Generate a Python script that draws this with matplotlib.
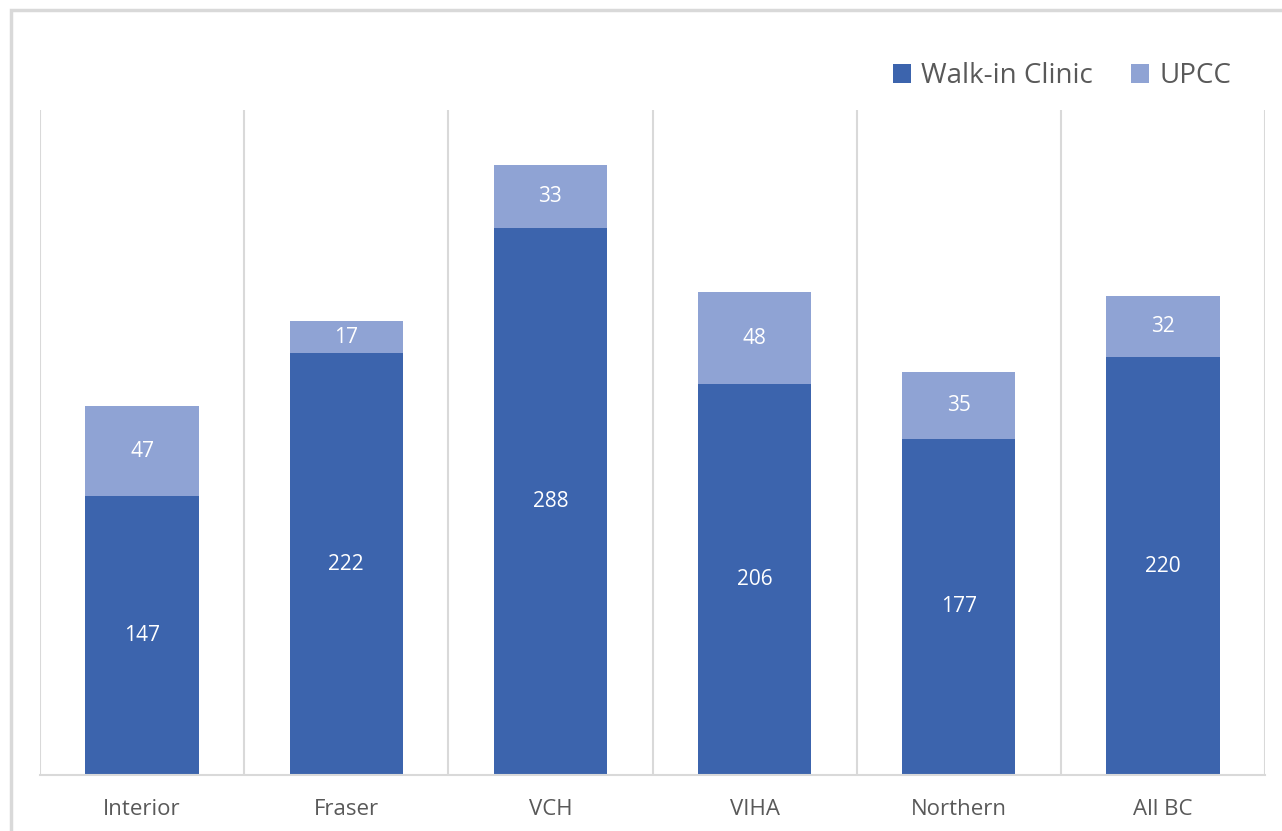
import matplotlib
matplotlib.use('Agg')
from matplotlib import pyplot as plt
from matplotlib.patches import Rectangle

# data
regions = ['Interior', 'Fraser', 'VCH', 'VIHA', 'Northern', 'All BC']
walk_in = [147, 222, 288, 206, 177, 220]
upcc = [47, 17, 33, 48, 35, 32]

dark = '#3C64AD'
light = '#8FA3D4'
grey_txt = '#595959'

plt.rcParams['font.family'] = ['Open Sans', 'DejaVu Sans']

fig = plt.figure(figsize=(12.82, 8.31), dpi=100)
# light grey chart border
fig.patches.append(Rectangle((11/1282, -0.1), 1.2, 1 - 10/831 + 0.1,
                             transform=fig.transFigure, fill=False,
                             edgecolor='#D9D9D9', linewidth=2.5))

ax = fig.add_axes([40/1282, 1 - 775/831, 1225/1282, 665/831])
x = range(len(regions))
b1 = ax.bar(x, walk_in, width=0.555, color=dark, label='Walk-in Clinic', zorder=2)
b2 = ax.bar(x, upcc, width=0.555, bottom=walk_in, color=light, label='UPCC', zorder=2)

ax.bar_label(b1, label_type='center', color='white', fontsize=15)
ax.bar_label(b2, label_type='center', color='white', fontsize=15)

ax.set_xlim(-0.5, len(regions) - 0.5)
ax.set_ylim(0, 350)
ax.set_yticks([])
ax.set_xticks(list(x))
ax.set_xticklabels(regions, fontsize=16, color=grey_txt)
ax.tick_params(axis='x', length=0, pad=17)

# vertical separators between categories
for i in range(len(regions) + 1):
    ax.axvline(i - 0.5, color='#D9D9D9', linewidth=1.5, zorder=1)

for s in ['top', 'right', 'left']:
    ax.spines[s].set_visible(False)
ax.spines['bottom'].set_color('#D9D9D9')
ax.spines['bottom'].set_linewidth(1.5)

fig.legend(handles=[b1, b2], loc='center right', bbox_to_anchor=(1256/1282, 1 - 76/831),
           ncol=2, frameon=False, fontsize=20, handlelength=0.65, handleheight=0.65,
           handletextpad=0.35, columnspacing=1.4, labelcolor=grey_txt)

fig.savefig('out.png', dpi=100)
